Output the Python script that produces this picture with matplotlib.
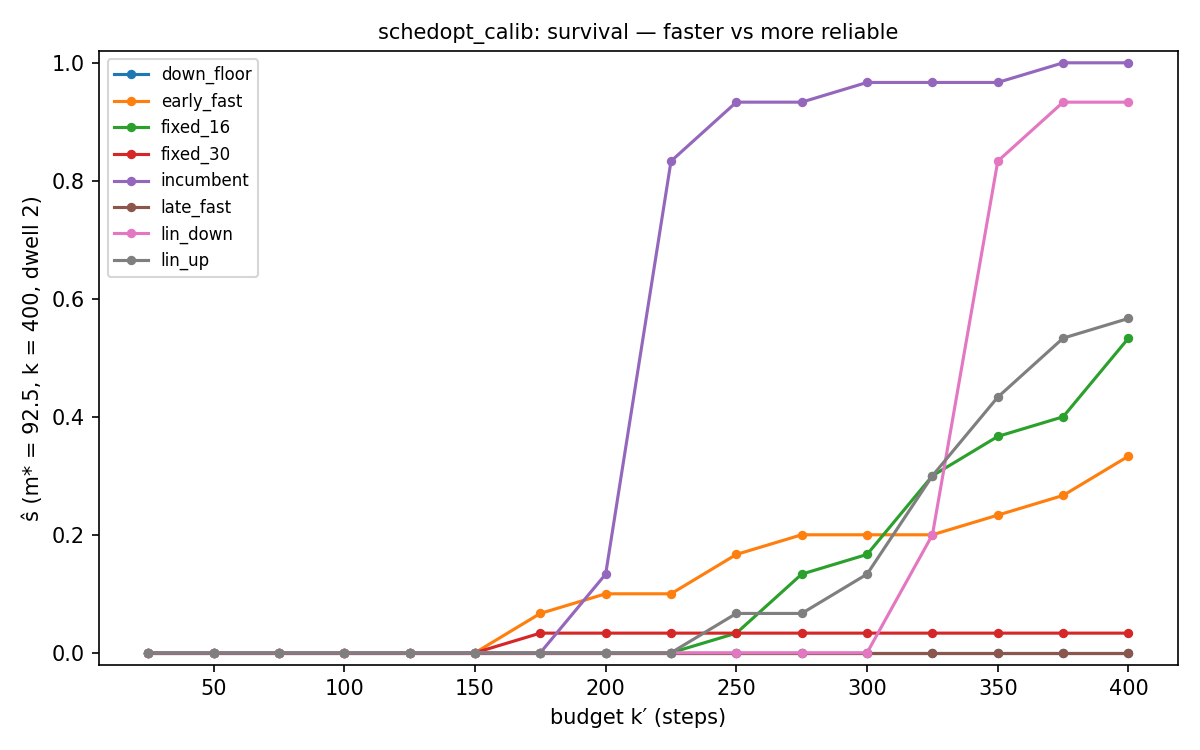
import matplotlib
matplotlib.use("Agg")
import matplotlib.pyplot as plt

# budget k' (steps)
budgets = [25, 50, 75, 100, 125, 150, 175, 200, 225, 250, 275, 300, 325, 350, 375, 400]

down_floor = [0.0] * 16
early_fast = [0, 0, 0, 0, 0, 0, 0.0667, 0.1, 0.1, 0.1667, 0.2, 0.2, 0.2, 0.2333, 0.2667, 0.3333]
fixed_16 = [0, 0, 0, 0, 0, 0, 0, 0, 0, 0.0333, 0.1333, 0.1667, 0.3, 0.3667, 0.4, 0.5333]
fixed_30 = [0, 0, 0, 0, 0, 0, 0.0333, 0.0333, 0.0333, 0.0333, 0.0333, 0.0333, 0.0333, 0.0333, 0.0333, 0.0333]
incumbent = [0, 0, 0, 0, 0, 0, 0, 0.1333, 0.8333, 0.9333, 0.9333, 0.9667, 0.9667, 0.9667, 1.0, 1.0]
late_fast = [0.0] * 16
lin_down = [0, 0, 0, 0, 0, 0, 0, 0, 0, 0, 0, 0, 0.2, 0.8333, 0.9333, 0.9333]
lin_up = [0, 0, 0, 0, 0, 0, 0, 0, 0, 0.0667, 0.0667, 0.1333, 0.3, 0.4333, 0.5333, 0.5667]

series = {
    "down_floor": down_floor,
    "early_fast": early_fast,
    "fixed_16": fixed_16,
    "fixed_30": fixed_30,
    "incumbent": incumbent,
    "late_fast": late_fast,
    "lin_down": lin_down,
    "lin_up": lin_up,
}

fig, ax = plt.subplots(figsize=(8, 5), dpi=150)
for name, vals in series.items():
    ax.plot(budgets, vals, marker="o", markersize=3.5, linewidth=1.5, label=name)

ax.set_ylim(-0.02, 1.02)
ax.set_xlabel("budget k\u2032 (steps)")
ax.set_ylabel("\u015d (m* = 92.5, k = 400, dwell 2)")
ax.set_title("schedopt_calib: survival \u2014 faster vs more reliable", fontsize=10)
ax.legend(fontsize=8, loc="upper left")

plt.tight_layout()
plt.savefig("out.png", dpi=150)
plt.close()
